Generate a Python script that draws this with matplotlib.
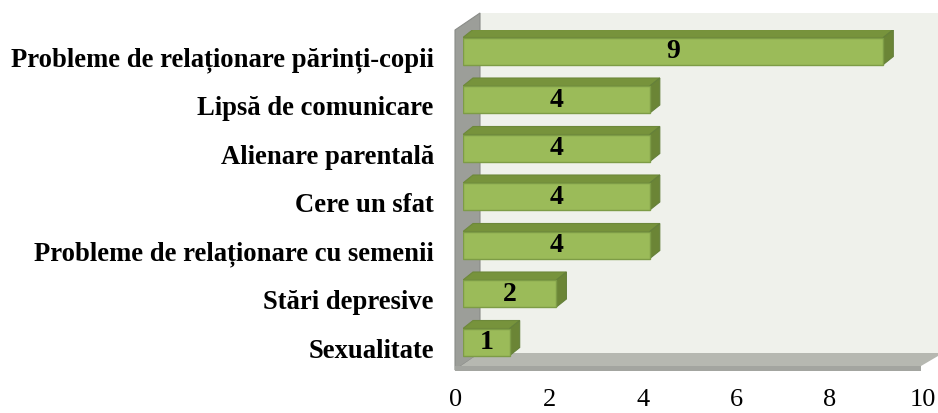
import matplotlib.pyplot as plt
import matplotlib.transforms as mtransforms
from matplotlib.patches import Polygon

plt.rcParams['font.family'] = ['Liberation Serif', 'DejaVu Serif']

categories = ['Sexualitate', 'Stări depresive', 'Probleme de relaționare cu semenii',
              'Cere un sfat', 'Alienare parentală', 'Lipsă de comunicare',
              'Probleme de relaționare părinți-copii']
values = [1, 2, 4, 4, 4, 4, 9]
xticks = [0, 2, 4, 6, 8, 10]

W, H = 938, 413
fig = plt.figure(figsize=(W / 100, H / 100), dpi=100)

# background: 3D walls in pixel coordinates
bg = fig.add_axes([0, 0, 1, 1])
bg.set_xlim(0, W)
bg.set_ylim(H, 0)
bg.axis('off')
bg.add_patch(Polygon([(480, 13), (938, 13), (938, 353), (480, 353)], closed=True,
                     facecolor='#eff1eb', edgecolor='none'))
bg.add_patch(Polygon([(455, 30), (480, 13), (480, 353), (455, 370)], closed=True,
                     facecolor='#9c9e99', edgecolor='#8a8c88', lw=0.8))
bg.add_patch(Polygon([(455, 370), (480, 353), (938, 353), (938, 356), (921, 366), (921, 370)],
                     closed=True, facecolor='#b6b8b1', edgecolor='none'))
bg.add_patch(Polygon([(455, 366), (921, 366), (921, 371), (455, 371)], closed=True,
                     facecolor='#a3a5a0', edgecolor='none'))

# main axes: front plane
x0, x1 = 463, 930
ytop, ybot = 30, 370
ax = fig.add_axes([x0 / W, (H - ybot) / H, (x1 - x0) / W, (ybot - ytop) / H])
ax.patch.set_alpha(0)
ax.set_xlim(0, 10)
py = 48.5
ax.set_ylim(-(ybot - 342) / py, 6 + (51 - ytop) / py)

bh = 27 / py
dx = 10 / 46.7
dy = 8 / py
ypos = list(range(len(categories)))
ax.barh(ypos, values, height=bh, color='#9bbb59', edgecolor='#7d9c46', linewidth=1, zorder=3)
for y, v in zip(ypos, values):
    top = [(0, y + bh / 2), (v, y + bh / 2), (v + dx, y + bh / 2 + dy), (dx, y + bh / 2 + dy)]
    side = [(v, y - bh / 2), (v + dx, y - bh / 2 + dy), (v + dx, y + bh / 2 + dy), (v, y + bh / 2)]
    ax.add_patch(Polygon(top, closed=True, facecolor='#77933c', edgecolor='#6d883a', lw=0.8, zorder=2))
    ax.add_patch(Polygon(side, closed=True, facecolor='#6b8536', edgecolor='#64803a', lw=0.8, zorder=2))
    ax.text(v / 2, y - 0.02, str(v), ha='center', va='center', fontsize=20, fontweight='bold', zorder=4)

ax.set_yticks(ypos)
ax.set_yticklabels(categories, fontsize=19.2, fontweight='bold')
ax.set_xticks(xticks)
ax.set_xticklabels([str(t) for t in xticks], fontsize=19)
ax.tick_params(axis='y', length=0, pad=21)
ax.tick_params(axis='x', length=0, pad=14)
off_x = mtransforms.ScaledTranslation(-7 / 100, 0, fig.dpi_scale_trans)
for lbl in ax.get_xticklabels():
    lbl.set_transform(lbl.get_transform() + off_x)
off_y = mtransforms.ScaledTranslation(0, -6 / 100, fig.dpi_scale_trans)
for lbl in ax.get_yticklabels():
    lbl.set_transform(lbl.get_transform() + off_y)
for s in ax.spines.values():
    s.set_visible(False)

fig.savefig('out.png', dpi=100)
